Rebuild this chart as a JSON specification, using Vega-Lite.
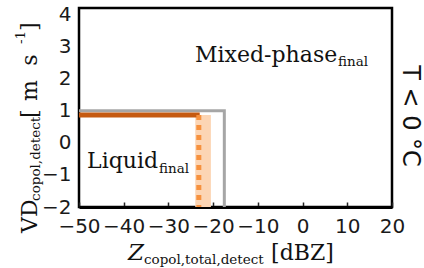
{
  "$schema": "https://vega.github.io/schema/vega-lite/v6.json",
  "width": 313,
  "height": 199,
  "autosize": {"type": "none"},
  "padding": {"left": 79, "top": 8, "right": 32, "bottom": 61},
  "background": "white",
  "config": {
    "view": {"stroke": "black", "strokeWidth": 2.5},
    "axis": {"grid": false, "domain": false, "labelFont": "DejaVu Sans", "labelFontSize": 20, "labelColor": "#1a1a1a", "title": null}
  },
  "encoding": {
    "x": {"field": "x", "type": "quantitative", "scale": {"domain": [-50, 20], "nice": false, "zero": false},
      "axis": {"values": [-50, -40, -30, -20, -10, 0, 10, 20], "ticks": true, "tickSize": -5, "tickColor": "#222", "tickWidth": 1.5, "labelPadding": 14, "labelFlush": false, "labelOverlap": false, "domain": true, "domainColor": "black", "domainWidth": 3}},
    "y": {"field": "y", "type": "quantitative", "scale": {"domain": [-2, 4.2], "nice": false, "zero": false},
      "axis": {"values": [-2, -1, 0, 1, 2, 3, 4], "ticks": false, "labelPadding": 8, "labelFlush": false, "labelOverlap": false}}
  },
  "layer": [
    {
      "data": {"values": [{"x": -24, "x2": -20.5, "y": -2, "y2": 0.87}]},
      "mark": {"type": "rect", "color": "#fcd5b4"},
      "encoding": {"x2": {"field": "x2"}, "y2": {"field": "y2"}}
    },
    {
      "data": {"values": [{"x": -50, "y": 1, "o": 1}, {"x": -17.5, "y": 1, "o": 2}, {"x": -17.5, "y": -2, "o": 3}]},
      "mark": {"type": "line", "color": "#a6a6a6", "strokeWidth": 3},
      "encoding": {"order": {"field": "o"}}
    },
    {
      "data": {"values": [{"x": -50, "y": 0.87}, {"x": -23, "y": 0.87}]},
      "mark": {"type": "line", "color": "#c55a11", "strokeWidth": 5},
      "encoding": {}
    },
    {
      "data": {"values": [{"x": -23.2, "y": 0.87, "o": 1}, {"x": -23.2, "y": -2, "o": 2}]},
      "mark": {"type": "line", "color": "#f7913d", "strokeWidth": 5, "strokeDash": [5, 5]},
      "encoding": {"order": {"field": "o"}}
    },
    {
      "data": {"values": [{"x": -24.05, "y": 2.52, "t": "Mixed-phase"}, {"x": -48.2, "y": -0.785, "t": "Liquid"}, {"x": -7.05, "y": -3.65, "t": "[dBZ]"}]},
      "mark": {"type": "text", "font": "DejaVu Serif", "fontSize": 22, "align": "left", "baseline": "alphabetic", "color": "#111"},
      "encoding": {"text": {"field": "t"}}
    },
    {
      "data": {"values": [{"x": 7.94, "y": 2.39, "t": "final"}, {"x": -32.1, "y": -0.94, "t": "final"}, {"x": -35.46, "y": -3.78, "t": "copol,total,detect"}]},
      "mark": {"type": "text", "font": "DejaVu Serif", "fontSize": 13.5, "align": "left", "baseline": "alphabetic", "color": "#111"},
      "encoding": {"text": {"field": "t"}}
    },
    {
      "data": {"values": [{"x": -39.04, "y": -3.65, "t": "Z"}]},
      "mark": {"type": "text", "font": "DejaVu Serif", "fontSize": 23, "fontStyle": "italic", "align": "left", "baseline": "alphabetic", "color": "#111"},
      "encoding": {"text": {"field": "t"}}
    },
    {
      "data": {"values": [{"x": -59.4, "y": -2.81, "t": "VD"}, {"x": -59.4, "y": 0.77, "t": "["}, {"x": -59.4, "y": 1.3, "t": "m"}, {"x": -59.4, "y": 2.4, "t": "s"}, {"x": -59.4, "y": 3.48, "t": "]"}]},
      "mark": {"type": "text", "font": "DejaVu Serif", "fontSize": 22, "angle": 270, "align": "left", "baseline": "alphabetic", "color": "#111"},
      "encoding": {"text": {"field": "t"}}
    },
    {
      "data": {"values": [{"x": -58.7, "y": -1.81, "t": "copol,detect"}, {"x": -62.1, "y": 3.08, "t": "-1"}]},
      "mark": {"type": "text", "font": "DejaVu Serif", "fontSize": 13.5, "angle": 270, "align": "left", "baseline": "alphabetic", "color": "#111"},
      "encoding": {"text": {"field": "t"}}
    },
    {
      "data": {"values": [{"x": 22.46, "y": 0.835, "t": "T < 0 °C"}]},
      "mark": {"type": "text", "font": "DejaVu Sans", "fontSize": 24, "angle": 90, "align": "center", "baseline": "alphabetic", "color": "#111"},
      "encoding": {"text": {"field": "t"}}
    }
  ]
}
